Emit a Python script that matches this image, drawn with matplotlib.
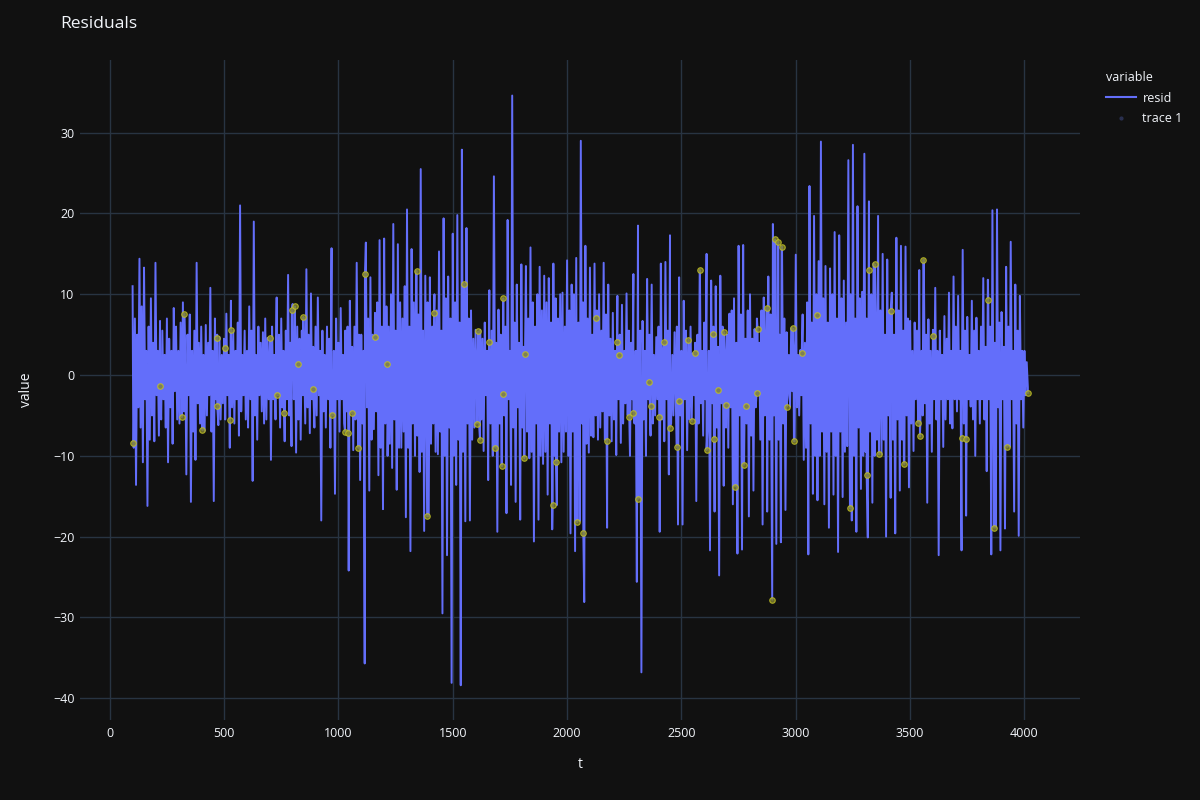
import numpy as np
import matplotlib.pyplot as plt
from matplotlib.lines import Line2D

plt.rcParams['font.family'] = ['Open Sans', 'DejaVu Sans']

# residual read off the chart as an upper and a lower reading per 10 steps of t:
# upper values sit at t = 100, 110, ...; lower values at t = 105, 115, ...
upper = [
    11, 7, 5, 14.4, 8.5, 13.3, 3, 6, 9.5, 4,
    13.9, 3, 6.7, 5.5, 2.5, 7, 4.5, 3, 8.3, 6,
    3, 6.5, 9.0, 2.5, 5, 7.5, 3, 5.5, 13.9, 4,
    6, 2.5, 6.2, 4, 10.8, 3, 7, 5, 4.7, 2.5,
    4.5, 7.6, 2.5, 9.2, 5.5, 3, 6.5, 21.0, 2.5, 5.5,
    3, 8.5, 5.5, 19.0, 2.5, 6, 4, 5.3, 7, 4.6,
    3.5, 6, 2.5, 9.6, 5, 7, 3, 5.5, 12.4, 4,
    8.8, 3, 6, 4.5, 5.5, 2.5, 13.1, 5, 10.1, 3.5,
    6, 9.6, 3, 5.5, 2.5, 6, 4.5, 15.7, 3, 7,
    4, 8.3, 2.5, 5.5, 6, 9.2, 3.5, 6, 13.9, 5,
    5, 3, 16.4, 7, 12.1, 5, 7.7, 9, 16.7, 6,
    16.9, 8.5, 6, 10, 18.7, 5.5, 16.2, 9, 7, 11,
    20.5, 6, 15.6, 9, 12.9, 7.5, 25.5, 5.5, 12.3, 9,
    12.1, 6, 10, 8, 15.3, 5.5, 19.4, 9.5, 12.2, 7,
    17.5, 9, 19.8, 6.5, 27.9, 10, 18.2, 7, 8, 4.5,
    5.6, 3, 5.6, 4.5, 6.5, 3, 10.5, 5.5, 24.6, 4,
    8.1, 5, 3.5, 6, 19.2, 3, 34.6, 6.5, 11.2, 4,
    13.7, 3.5, 13.5, 7, 15.8, 9, 6, 10, 13.4, 8,
    12.3, 9, 12.0, 6.5, 13.8, 9.5, 7, 10, 10.2, 6,
    14.2, 8, 11.2, 10, 14.5, 6.5, 29.0, 9, 16.0, 7,
    13.3, 5, 13.8, 8, 10.0, 5.5, 13.9, 7.5, 11.2, 4.5,
    7.7, 3, 9.8, 5, 8.7, 3, 10.1, 5.5, 4, 12.5,
    3, 18.5, 5.5, 6.7, 3, 11.9, 5, 11.2, 2.5, 4.7,
    6, 13.8, 3, 14.0, 5.5, 17.3, 2.5, 5.3, 6, 12.1,
    3, 9.2, 5.5, 3.5, 6, 2.7, 4, 5, 13.0, 3,
    6.5, 15.0, 3, 11.7, 6, 11.0, 3.5, 12.3, 6, 3.1,
    5, 7.6, 8, 9.5, 4, 16.0, 7.5, 16.1, 4.5, 8,
    10.0, 4.5, 5.7, 7, 4, 8, 9.6, 4.5, 12.2, 7.5,
    18.7, 8, 16.5, 5, 15.9, 7, 5.3, 2.5, 5.8, 3,
    14.9, 2.5, 3.1, 7.5, 4, 9, 23.4, 6.5, 19.7, 10,
    14.1, 28.9, 9.5, 13.5, 6.5, 13.2, 10, 17.7, 7, 17.3,
    9.5, 11.7, 6.5, 26.6, 10, 28.5, 7, 20.9, 9.5, 10.3,
    27.4, 7, 21.5, 10, 13.8, 6.5, 19.7, 8, 15.0, 5,
    14.3, 8, 10.2, 5, 17.0, 8, 16.0, 5.5, 15.9, 7,
    6.7, 3, 6.5, 5.5, 13.0, 3, 14.3, 5, 6.9, 3,
    5.6, 10.8, 3, 5.5, 2.5, 7.3, 4.5, 10.2, 3, 12.2,
    6, 9.8, 3, 15.5, 5.5, 7.2, 2.5, 9.2, 5.5, 7.1,
    3, 6, 12.0, 3.5, 11.8, 6, 20.4, 4, 20.5, 6.5,
    7.8, 3.5, 13.4, 6, 16.5, 3, 11.2, 5.5, 9.8, 3,
    3.0, 1.6,
]
lower = [
    -9, -13.6, -4, -6.5, -10.8, -3, -16.2, -8, -5, -8.2,
    -2.5, -7.5, -5.5, -3, -6.5, -10.8, -4, -8.5, -2, -5.5,
    -6, -3, -4.5, -12.3, -2.5, -15.7, -7, -10.5, -3.5, -6,
    -3, -6.9, -5, -2.5, -7, -15.6, -3, -6.2, -5.5, -3.5,
    -5.5, -2.5, -9.0, -4, -6, -3, -7.5, -4.5, -2.5, -5.5,
    -6.5, -3, -13.1, -5, -8.0, -2.5, -4.5, -6, -5.5, -3,
    -10.5, -3, -5.5, -2.5, -6.5, -4, -8.2, -3, -5, -8.8,
    -3, -9.6, -5.5, -8.0, -2.5, -6, -4, -7.2, -3, -6.5,
    -5, -2.5, -18.0, -4.5, -6.5, -3, -9.0, -5, -14.7, -3,
    -7.0, -3, -6, -4.5, -24.2, -3, -9.3, -5.5, -4, -13,
    -6, -35.7, -4, -14.3, -8, -6.7, -4.5, -12.4, -9, -16.6,
    -6, -10, -8.5, -11.5, -5.5, -14.2, -9, -9.0, -7, -17.6,
    -9, -21.8, -6, -10, -7.5, -12.0, -9.5, -19.3, -6, -17.5,
    -8.5, -6, -9.5, -9.8, -7, -29.5, -10, -22.3, -6.5, -38.1,
    -10, -13.6, -8, -38.4, -9.5, -18.1, -6, -18.0, -8, -6.5,
    -3, -6.0, -5.5, -9.4, -2.5, -13.0, -6, -10.0, -4, -19.4,
    -6, -3.5, -5, -17.1, -3, -13.6, -6.5, -15.7, -4, -17.9,
    -6.5, -4, -7, -10.3, -9.5, -20.6, -6, -17.9, -10, -11.0,
    -9.5, -14.8, -6, -19.1, -10, -16.1, -7, -10.8, -9.5, -7,
    -10, -19.6, -7, -21.8, -9.5, -18.1, -6, -28.1, -8.5, -9.6,
    -7.5, -7.7, -5, -8, -6.5, -4.5, -8, -18.9, -5, -8.2,
    -5.5, -9.9, -3, -8.4, -6, -3.5, -5, -10.0, -3, -6,
    -25.6, -3, -36.8, -5.5, -10.0, -3, -7.5, -6, -5, -3,
    -19.4, -5.5, -8.2, -3, -12.3, -6, -5, -3, -18.5, -5,
    -18.5, -3, -9.3, -5.5, -5.7, -2.5, -15.6, -6, -3.5, -7.5,
    -3, -6, -21.7, -3.5, -16.9, -6.5, -24.8, -3.5, -13.7, -6.5,
    -9.0, -4, -16.0, -7.5, -22.1, -5, -21.6, -8, -6, -17.5,
    -7.5, -14.3, -4, -2.4, -8, -18.5, -5, -16.9, -8, -19.4,
    -5, -20.9, -8, -20.7, -6, -16.7, -2.5, -3.9, -2, -8.2,
    -4, -5, -2.5, -10.5, -9, -22.2, -6, -14.7, -10, -15.5,
    -10, -7, -16.0, -9.5, -18.9, -7, -14.8, -10, -21.9, -7,
    -15.1, -9.5, -8.8, -7, -18.0, -10, -19.4, -6.5, -14.1, -10,
    -9.5, -20.1, -7, -15.8, -10, -8, -6, -9.8, -8, -20.0,
    -5, -15.2, -8, -19.6, -5.5, -14.3, -8, -11.0, -5, -13.9,
    -6, -9.4, -3, -5.9, -6, -5, -3.5, -15.8, -6, -9.5,
    -3, -5.5, -22.3, -3, -8.9, -5.5, -3, -6, -6.6, -3,
    -4.5, -3, -21.7, -6, -17.4, -3, -3.9, -5.5, -10.0, -3,
    -6, -3, -5.5, -11.9, -3, -22.2, -6, -18.9, -4, -21.7,
    -3, -19.0, -6, -8.9, -3, -16.9, -6, -19.9, -3, -6.5,
    -2.5, -1.5,
]
t_start = 100
t_step = 10

# flagged points (trace 1)
marker_t = [103, 220, 315, 326, 405, 468, 470, 504, 526, 530,
            701, 730, 762, 796, 810, 825, 847, 890, 970, 1029,
            1043, 1058, 1087, 1116, 1160, 1214, 1342, 1388, 1418, 1549,
            1605, 1612, 1619, 1660, 1685, 1714, 1718, 1721, 1813, 1816,
            1937, 1951, 2044, 2071, 2126, 2176, 2220, 2228, 2272, 2290,
            2312, 2360, 2365, 2403, 2424, 2450, 2479, 2491, 2530, 2545,
            2559, 2581, 2610, 2637, 2642, 2661, 2687, 2695, 2734, 2774,
            2782, 2829, 2833, 2873, 2897, 2909, 2924, 2938, 2960, 2986,
            2992, 3026, 3091, 3237, 3310, 3320, 3346, 3364, 3415, 3473,
            3536, 3543, 3558, 3601, 3725, 3744, 3842, 3867, 3925, 4015]
marker_v = [-8.4, -1.4, -5.2, 7.6, -6.8, 4.6, -3.8, 3.4, -5.6, 5.6,
            4.6, -2.5, -4.7, 8.0, 8.5, 1.4, 7.2, -1.7, -5.0, -7.0,
            -7.2, -4.7, -9.0, 12.5, 4.7, 1.4, 12.9, -17.5, 7.7, 11.3,
            -6.0, 5.4, -8.0, 4.1, -9.0, -11.3, -2.4, 9.5, -10.3, 2.6,
            -16.1, -10.8, -18.2, -19.6, 7.1, -8.2, 4.1, 2.5, -5.2, -4.7,
            -15.3, -0.9, -3.8, -5.2, 4.1, -6.5, -8.9, -3.2, 4.4, -5.7,
            2.7, 13.0, -9.3, 5.1, -7.9, -1.8, 5.3, -3.7, -13.8, -11.1,
            -3.8, -2.2, 5.7, 8.3, -27.8, 16.8, 16.5, 15.9, -3.9, 5.8,
            -8.2, 2.7, 7.4, -16.5, -12.4, 13.0, 13.7, -9.8, 7.9, -11.0,
            -5.9, -7.6, 14.3, 4.8, -7.8, -7.9, 9.3, -18.9, -8.9, -2.2]

x_ticks = [0, 500, 1000, 1500, 2000, 2500, 3000, 3500, 4000]
y_ticks = [-40, -30, -20, -10, 0, 10, 20, 30]

t_up = t_start + t_step * np.arange(len(upper))
t_lo = t_up + t_step / 2
all_t = np.concatenate([t_up, t_lo, marker_t])
all_v = np.concatenate([upper, lower, marker_v])
order = np.argsort(all_t, kind='stable')

bg = '#111111'
grid = '#283442'
txt = '#f2f5fa'

fig = plt.figure(figsize=(12, 8), dpi=100, facecolor=bg)
ax = fig.add_axes([80 / 1200, 80 / 800, 1000 / 1200, 660 / 800], facecolor=bg)

ax.plot(all_t[order], all_v[order], color='#636efa', lw=1.4, zorder=3)
ax.plot(marker_t, marker_v, 'o', ms=4, mfc='#85852c', mec='#c4c424',
        mew=0.8, alpha=0.8, zorder=4)

ax.set_xlim(-130, 4243)
ax.set_ylim(-42.7, 39.0)
ax.set_xticks(x_ticks)
ax.set_yticks(y_ticks)
ax.grid(True, color=grid, lw=1)
ax.set_axisbelow(True)
for s in ax.spines.values():
    s.set_visible(False)
ax.tick_params(colors=txt, labelsize=9, length=0)
ax.tick_params(axis='x', pad=5)
ax.tick_params(axis='y', pad=4)

ax.set_xlabel('t', color=txt, fontsize=10, labelpad=12)
ax.set_ylabel('value', color=txt, fontsize=10, labelpad=14)

fig.text(60 / 1200, 1 - 24 / 800, 'Residuals', color=txt, fontsize=12.5,
         va='center', ha='left')

handles = [Line2D([], [], color='#636efa', lw=1.5),
           Line2D([], [], ls='', marker='o', ms=2, color='#2a3050')]
leg = fig.legend(handles, ['resid', 'trace 1'], title='variable',
                 loc='upper left', bbox_to_anchor=(1095 / 1200, 1 - 60 / 800),
                 frameon=False, fontsize=9, title_fontsize=9,
                 handlelength=2.4, handletextpad=0.5, labelspacing=0.6,
                 alignment='left')
for tx in leg.get_texts():
    tx.set_color(txt)
leg.get_title().set_color(txt)

fig.savefig('out.png', dpi=100, facecolor=bg)
